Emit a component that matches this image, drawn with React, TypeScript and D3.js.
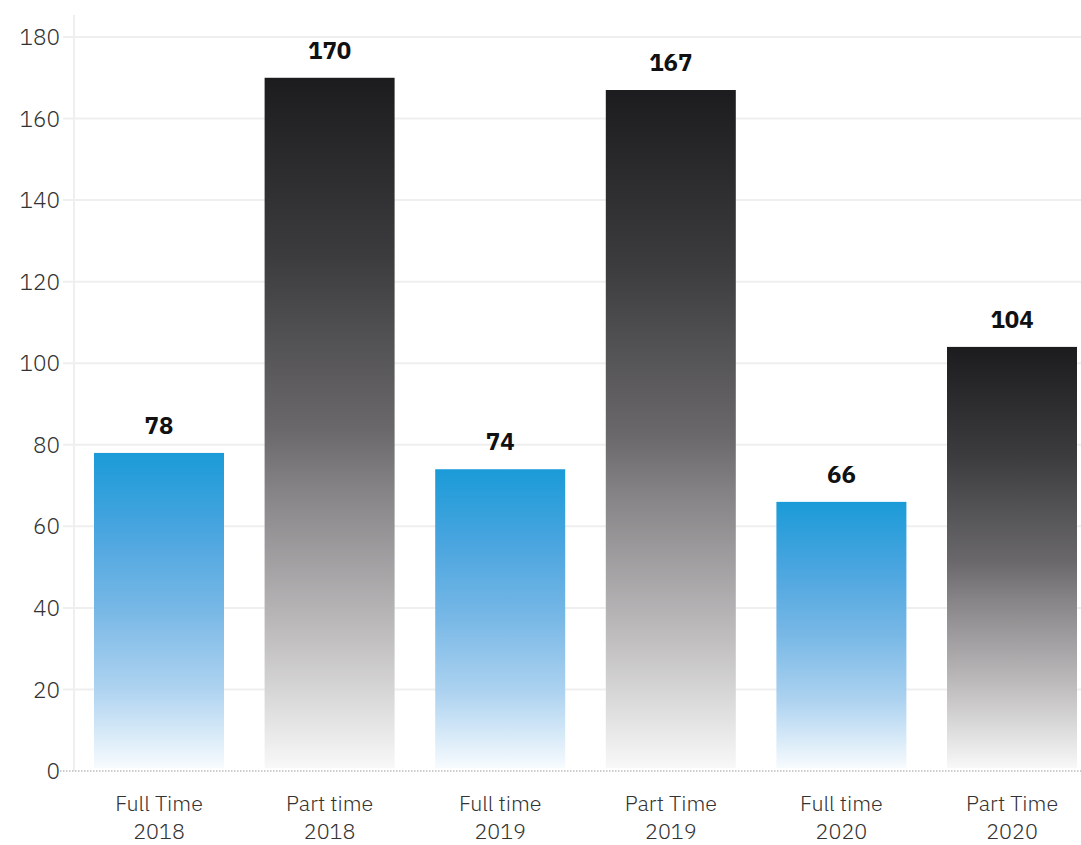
import React from "react";
import * as d3 from "d3";

const categories: string[][] = [
  ["Full Time", "2018"],
  ["Part time", "2018"],
  ["Full time", "2019"],
  ["Part Time", "2019"],
  ["Full time", "2020"],
  ["Part Time", "2020"],
];
const values: number[] = [78, 170, 74, 167, 66, 104];
const kinds: string[] = ["full", "part", "full", "part", "full", "part"];
const yTicks: number[] = [0, 20, 40, 60, 80, 100, 120, 140, 160, 180];

const W = 1081;
const H = 845;
const FONT = "'IBM Plex Sans', 'Noto Sans', Roboto, sans-serif";

export default function App() {
  const y = d3.scaleLinear().domain([0, 180]).range([771, 37]);
  const keys = categories.map((c) => c.join(" "));
  const x = d3
    .scaleBand<string>()
    .domain(keys)
    .range([73.7, 1097.3])
    .paddingInner(0.238)
    .paddingOuter(0.119);

  return (
    <svg
      width={W}
      height={H}
      style={{ position: "absolute", left: 0, top: 0 }}
      fontFamily={FONT}
    >
      <defs>
        <linearGradient id="gFull" x1="0" y1="0" x2="0" y2="1">
          <stop offset="0" stopColor="#1a9bd8" />
          <stop offset="0.25" stopColor="#4aa5df" />
          <stop offset="0.5" stopColor="#78b8e6" />
          <stop offset="0.75" stopColor="#aed3f0" />
          <stop offset="1" stopColor="#f7fbfe" />
        </linearGradient>
        <linearGradient id="gPart" x1="0" y1="0" x2="0" y2="1">
          <stop offset="0" stopColor="#1c1c1f" />
          <stop offset="0.26" stopColor="#3c3c3f" />
          <stop offset="0.51" stopColor="#6a686b" />
          <stop offset="0.6" stopColor="#868486" />
          <stop offset="0.8" stopColor="#bdbbbc" />
          <stop offset="1" stopColor="#f8f8f8" />
        </linearGradient>
      </defs>
      {yTicks
        .filter((t) => t !== 0)
        .map((t) => (
          <line
            key={t}
            x1={63}
            x2={W}
            y1={y(t)}
            y2={y(t)}
            stroke="#efefef"
            strokeWidth={2}
          />
        ))}
      <line x1={74} x2={74} y1={15} y2={771} stroke="#efefef" strokeWidth={2} />
      {yTicks.map((t) => (
        <text
          key={t}
          x={60}
          y={y(t)}
          dy="0.36em"
          textAnchor="end"
          fontSize={22.5}
          fontWeight={300}
          fill="#333"
        >
          {t}
        </text>
      ))}
      {values.map((v, i) => (
        <rect
          key={i}
          x={x(keys[i])}
          y={y(v)}
          width={x.bandwidth()}
          height={y(0) - 3 - y(v)}
          fill={kinds[i] === "full" ? "url(#gFull)" : "url(#gPart)"}
        />
      ))}
      <line
        x1={60}
        x2={W}
        y1={y(0)}
        y2={y(0)}
        stroke="#9a9a9a"
        strokeWidth={1}
        strokeDasharray="1.5,1.5"
      />
      {values.map((v, i) => (
        <text
          key={i}
          x={(x(keys[i]) as number) + x.bandwidth() / 2}
          y={y(v) - 19}
          textAnchor="middle"
          fontSize={24}
          fontWeight="bold"
          fill="#111"
        >
          {v}
        </text>
      ))}
      {categories.map((c, i) => (
        <text
          key={i}
          x={(x(keys[i]) as number) + x.bandwidth() / 2}
          y={811}
          textAnchor="middle"
          fontSize={21.5}
          fontWeight={300}
          fill="#333"
        >
          <tspan x={(x(keys[i]) as number) + x.bandwidth() / 2} dy={0}>
            {c[0]}
          </tspan>
          <tspan x={(x(keys[i]) as number) + x.bandwidth() / 2} dy={28}>
            {c[1]}
          </tspan>
        </text>
      ))}
    </svg>
  );
}
